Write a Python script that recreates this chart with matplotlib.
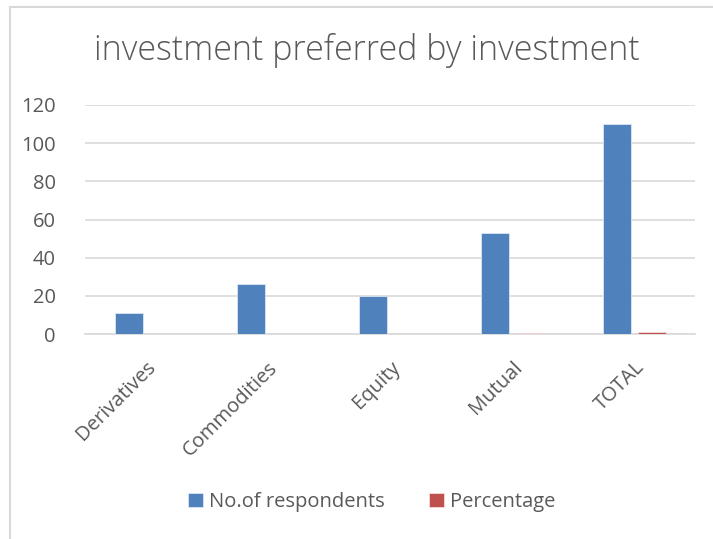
import matplotlib.pyplot as plt
from matplotlib.patches import Rectangle
import numpy as np

# Survey counts by investment type
categories = ['Derivatives', 'Commodities', 'Equity', 'Mutual', 'TOTAL']
respondents = [11, 26, 20, 53, 110]
percentage = [0.1, 0.24, 0.18, 0.48, 1.0]

blue = '#4F81BD'
red = '#C0504D'
grey_text = '#595959'

plt.rcParams['font.family'] = ['Open Sans', 'DejaVu Sans']

W, H = 713, 539
fig = plt.figure(figsize=(W / 100, H / 100), dpi=100)

# light frame around the chart area
fig.patches.append(Rectangle((10 / W, -0.1), 1.2, 1.1 - 7 / H,
                             transform=fig.transFigure, fill=False,
                             edgecolor='#D9D9D9', linewidth=1.5))

ax = fig.add_axes([85 / W, (H - 334) / H, 610 / W, 229 / H])

x = np.arange(len(categories))
width = 0.23
ax.bar(x - 0.14, respondents, width, color=blue, edgecolor='#DCE6F2', linewidth=0.6,
       label='No.of respondents', zorder=3)
ax.bar(x + 0.15, percentage, width, color=red, edgecolor='#F2DCDB', linewidth=0.6,
       label='Percentage', zorder=3)

ax.set_xlim(-0.5, len(categories) - 0.5)
ax.set_ylim(0, 120)
ax.set_yticks(range(0, 121, 20))
ax.yaxis.grid(True, color='#D9D9D9', linewidth=1.2, zorder=0)
ax.tick_params(axis='both', length=0, colors=grey_text, labelsize=14.5)
ax.tick_params(axis='y', pad=21)
ax.set_xticks(x)
ax.set_xticklabels(categories, rotation=45, ha='right', va='top',
                   rotation_mode='anchor')
ax.tick_params(axis='x', pad=17)
for s in ['top', 'right', 'left']:
    ax.spines[s].set_visible(False)
ax.spines['bottom'].set_color('#D9D9D9')
ax.spines['bottom'].set_linewidth(1.2)

fig.text(367 / W, 1 - 50 / H, 'investment preferred by investment',
         ha='center', va='center', fontsize=24.5, color=grey_text, fontweight='light')

fig.legend(loc='center', bbox_to_anchor=(372 / W, 1 - 502 / H), ncol=2,
           frameon=False, fontsize=14.5, handlelength=0.75, handleheight=0.75,
           handletextpad=0.3, columnspacing=2.2, labelcolor=grey_text)

fig.savefig('out.png', dpi=100)
